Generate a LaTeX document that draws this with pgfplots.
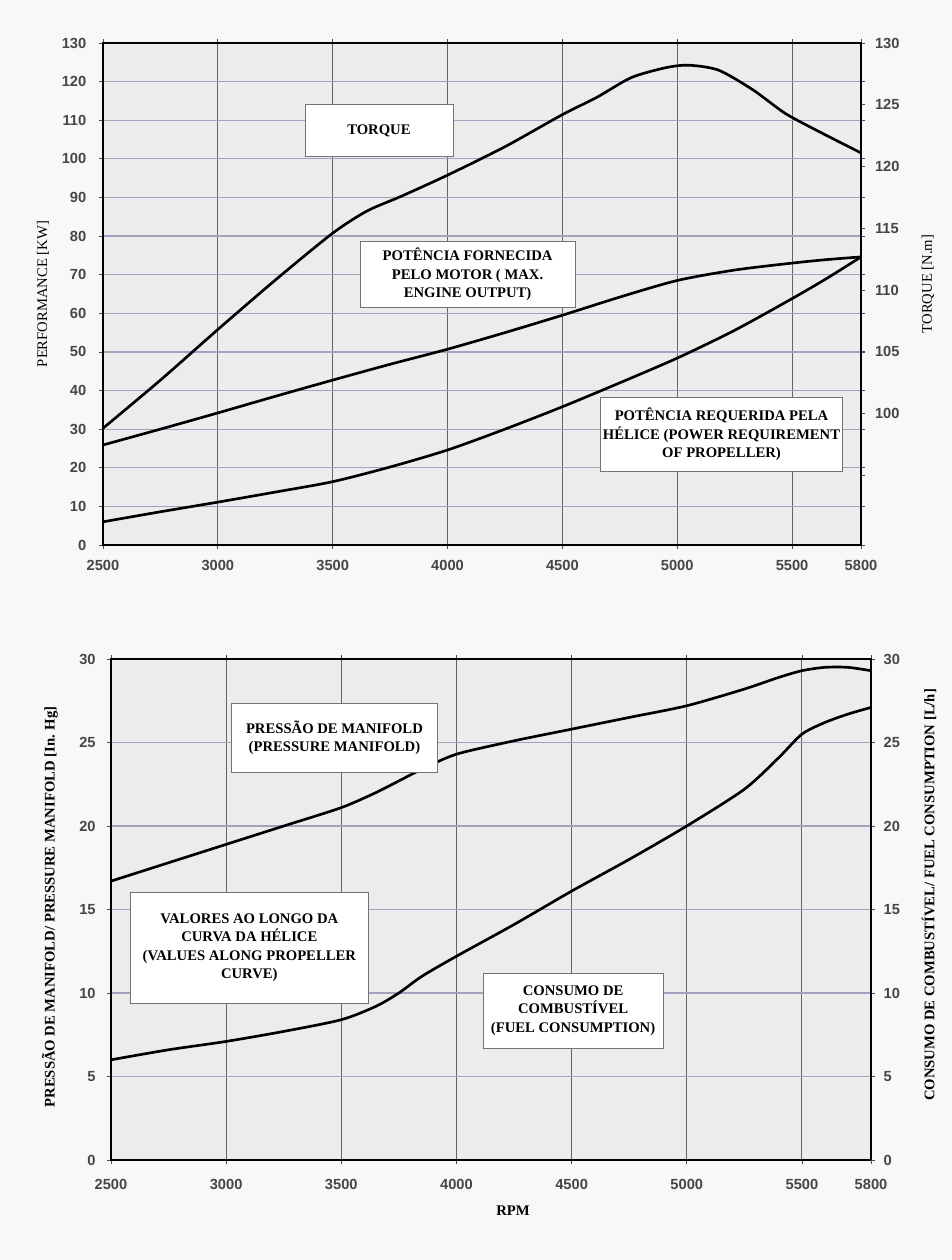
\documentclass[border=0pt]{standalone}
\usepackage{fontspec}
\setmainfont{Liberation Serif}
\newfontfamily\ticksans{Liberation Sans}
\usepackage{pgfplots}
\pgfplotsset{compat=1.18}
\usepackage{pgfplotstable}

\definecolor{hgrid}{RGB}{165,160,190}
\definecolor{vgrid}{RGB}{100,100,100}
\definecolor{plotbg}{RGB}{236,236,236}
\definecolor{pagebg}{RGB}{248,248,248}
\definecolor{tickc}{RGB}{70,70,70}

% Top panel: power curves [kW]
\pgfplotstableread{
rpm  out   prop
2500 25.9  6.0
2750 30.0  8.6
3000 34.2  11.1
3250 38.5  13.7
3500 42.7  16.4
3750 46.8  20.2
4000 50.7  24.6
4250 55.0  30.0
4500 59.5  35.8
4750 64.2  42.0
5000 68.5  48.4
5250 71.2  55.6
5500 73.0  63.8
5650 73.9  69.0
5800 74.6  74.6
}\powertab

% Top panel: torque [N.m]
\pgfplotstableread{
rpm  tq
2500 98.8
2750 102.7
3000 106.8
3250 110.8
3500 114.6
3650 116.4
3800 117.6
4000 119.3
4250 121.6
4500 124.2
4650 125.6
4800 127.2
4950 128.0
5050 128.2
5180 127.8
5330 126.2
5470 124.3
5620 122.8
5800 121.1
}\torquetab

% Bottom panel: manifold pressure [In. Hg] and fuel consumption [L/h]
\pgfplotstableread{
rpm  mp    fc
2500 16.7  6.0
2750 17.8  6.6
3000 18.9  7.1
3250 20.0  7.7
3500 21.1  8.4
3650 22.0  9.2
3750 22.7  10.0
3850 23.4  11.0
4000 24.3  12.2
4250 25.1  14.1
4500 25.8  16.1
4750 26.5  18.0
5000 27.2  20.0
5250 28.2  22.2
5400 28.9  24.1
5500 29.3  25.5
5600 29.5  26.2
5700 29.5  26.7
5800 29.3  27.1
}\bottab

\pgfplotsset{
  chart/.style={
    scale only axis, anchor=south west,
    xmin=2500, xmax=5800,
    axis line style={line width=1.5pt, black},
    tick align=outside, major tick length=3pt,
    tick style={line width=0.6pt, black!70},
    ticklabel style={font=\ticksans\bfseries\fontsize{11}{12}\selectfont, text=tickc},
    /pgf/number format/assume math mode=true,
    /pgf/number format/1000 sep={},
    xtick={2500,3000,3500,4000,4500,5000,5500,5800},
    xticklabels={2500,3000,3500,4000,4500,5000,5500,5800},
    major x grid style={vgrid, line width=0.75pt},
    major y grid style={hgrid, line width=0.9pt},
  },
  curve/.style={black, line width=2pt, line join=round, mark=none, smooth, tension=0.45},
}
\tikzset{
  box/.style={draw=black!55, line width=0.6pt, fill=white, align=center,
    font=\bfseries\fontsize{11}{13.8}\selectfont, inner sep=0pt},
}

\begin{document}
\begin{tikzpicture}
\useasboundingbox (0pt,0pt) rectangle (714pt,945pt);
\fill[pagebg] (0pt,0pt) rectangle (714pt,945pt);

% ---------- Top panel ----------
\begin{axis}[chart, at={(77.25pt,536.25pt)}, width=568.5pt, height=376.5pt,
  ymin=0, ymax=130, ytick={0,10,...,130},
  axis background/.style={fill=plotbg}, grid=major,
  xticklabel style={yshift=-5pt}, yticklabel style={xshift=-6pt}]
\addplot[curve] table[x=rpm,y=out]{\powertab};
\addplot[curve] table[x=rpm,y=prop]{\powertab};
\end{axis}
\begin{axis}[chart, at={(77.25pt,536.25pt)}, width=568.5pt, height=376.5pt,
  ymin=89.35, ymax=130, axis x line=none, axis y line*=right,
  ytick={95,100,...,130}, yticklabels={,100,105,110,115,120,125,130},
  yticklabel style={xshift=4pt}]
\addplot[curve] table[x=rpm,y=tq]{\torquetab};
\node[box, minimum width=111pt, minimum height=39pt] at (rel axis cs:0.364,0.825) {TORQUE};
\node[box, minimum width=161pt, minimum height=49pt] at (rel axis cs:0.481,0.539)
  {POTÊNCIA FORNECIDA\\PELO MOTOR ( MAX.\\ENGINE OUTPUT)};
\node[box, minimum width=182pt, minimum height=56pt] at (rel axis cs:0.816,0.220)
  {POTÊNCIA REQUERIDA PELA\\HÉLICE (POWER REQUIREMENT\\OF PROPELLER)};
\end{axis}

% ---------- Bottom panel ----------
\begin{axis}[chart, at={(83.25pt,75pt)}, width=570pt, height=375.75pt,
  ymin=0, ymax=30, ytick={0,5,...,30},
  axis background/.style={fill=plotbg}, grid=major,
  xticklabel style={yshift=-8pt}, yticklabel style={xshift=-5pt}]
\addplot[curve] table[x=rpm,y=mp]{\bottab};
\end{axis}
\begin{axis}[chart, at={(83.25pt,75pt)}, width=570pt, height=375.75pt,
  ymin=0, ymax=30, axis x line=none, axis y line*=right,
  ytick={0,5,...,30}, yticklabel style={xshift=3pt}]
\addplot[curve] table[x=rpm,y=fc]{\bottab};
\node[box, minimum width=154pt, minimum height=52pt] at (rel axis cs:0.294,0.843)
  {PRESSÃO DE MANIFOLD\\(PRESSURE MANIFOLD)};
\node[box, minimum width=178pt, minimum height=83pt] at (rel axis cs:0.182,0.424)
  {VALORES AO LONGO DA\\CURVA DA HÉLICE\\(VALUES ALONG PROPELLER\\CURVE)};
\node[box, minimum width=135pt, minimum height=56pt] at (rel axis cs:0.608,0.298)
  {CONSUMO DE\\COMBUSTÍVEL\\(FUEL CONSUMPTION)};
\end{axis}

% ---------- Axis titles ----------
\node[rotate=90, font=\fontsize{11}{13}\selectfont] at (32.25pt,724.5pt) {PERFORMANCE [KW]};
\node[rotate=90, font=\fontsize{11}{13}\selectfont] at (696pt,732pt) {TORQUE [N.m]};
\node[rotate=90, font=\bfseries\fontsize{11}{13}\selectfont] at (37.5pt,264.75pt)
  {PRESSÃO DE MANIFOLD/ PRESSURE MANIFOLD [In. Hg]};
\node[rotate=90, font=\bfseries\fontsize{11}{13}\selectfont] at (696.75pt,273.75pt)
  {CONSUMO DE COMBUSTÍVEL/ FUEL CONSUMPTION [L/h]};
\node[font=\bfseries\fontsize{11}{13}\selectfont] at (384.75pt,36.75pt) {RPM};
\end{tikzpicture}
\end{document}
